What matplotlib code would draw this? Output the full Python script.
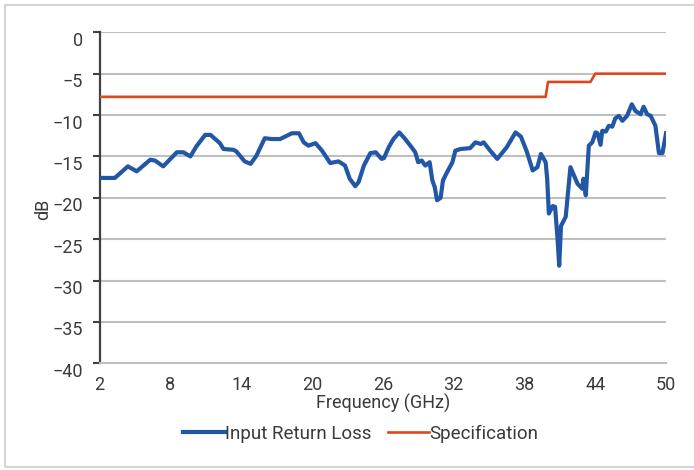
import matplotlib
matplotlib.use("Agg")
import matplotlib.pyplot as plt
from matplotlib.patches import Rectangle
from matplotlib.transforms import ScaledTranslation

plt.rcParams['font.family'] = ['Roboto', 'DejaVu Sans']

freq = [2.0, 3.3, 4.4, 5.15, 6.3, 6.7, 7.4, 8.55, 9.1, 9.7, 10.2, 10.95, 11.4,
        12.2, 12.5, 13.35, 13.6, 14.3, 14.8, 15.3, 16.0, 16.6, 17.3, 18.3,
        18.9, 19.3, 19.7, 20.3, 20.85, 21.55, 22.25, 22.8, 23.2, 23.67, 23.95,
        24.4, 24.95, 25.4, 25.9, 26.1, 26.5, 26.9, 27.4, 27.9, 28.5, 28.75,
        29.0, 29.3, 29.6, 29.97, 30.2, 30.4, 30.6, 30.9, 31.1, 31.45, 31.9,
        32.15, 32.6, 33.4, 33.85, 34.3, 34.55, 35.1, 35.7, 36.5, 37.25, 37.7,
        38.2, 38.7, 39.1, 39.4, 39.8, 39.93, 40.07, 40.4, 40.6, 40.8, 40.95,
        41.1, 41.5, 41.9, 42.2, 42.5, 42.9, 43.0, 43.2, 43.46, 43.75, 44.03,
        44.2, 44.45, 44.6, 44.9, 45.15, 45.45, 45.7, 46.0, 46.3, 46.7, 47.1,
        47.4, 47.85, 48.1, 48.4, 48.7, 49.1, 49.4, 49.7, 50.0]
return_loss = [-17.6, -17.6, -16.2, -16.8, -15.4, -15.5, -16.2, -14.5, -14.5,
               -15.0, -13.8, -12.4, -12.4, -13.4, -14.1, -14.2, -14.4, -15.6,
               -15.9, -14.9, -12.8, -12.9, -12.9, -12.2, -12.2, -13.3, -13.7,
               -13.4, -14.3, -15.8, -15.6, -16.1, -17.7, -18.6, -18.1, -16.1,
               -14.6, -14.5, -15.3, -15.2, -13.9, -12.9, -12.1, -12.9, -14.0,
               -14.5, -15.7, -15.5, -16.1, -15.7, -17.9, -18.7, -20.3, -20.0,
               -17.9, -16.9, -15.7, -14.3, -14.1, -14.0, -13.3, -13.5, -13.3,
               -14.3, -15.3, -13.9, -12.1, -12.6, -14.4, -16.7, -16.3, -14.7,
               -15.7, -17.7, -21.9, -21.0, -21.1, -24.8, -28.2, -23.4, -22.3,
               -16.3, -17.3, -18.3, -18.9, -17.7, -19.7, -13.7, -13.3, -12.1,
               -12.2, -13.6, -11.9, -12.0, -11.3, -11.4, -10.4, -10.1, -10.7,
               -10.1, -8.7, -9.5, -9.9, -9.0, -9.9, -10.1, -11.3, -14.6, -14.6,
               -12.2]

# specification limit
spec_freq = [2, 39.8, 40, 43.6, 44, 50]
spec_db = [-7.8, -7.8, -6, -6, -5, -5]

xticks = [2, 8, 14, 20, 26, 32, 38, 44, 50]
yticks = [0, -5, -10, -15, -20, -25, -30, -35, -40]

fig = plt.figure(figsize=(6.94, 4.70), dpi=100)
ax = fig.add_axes([0.1434, 0.227, 0.8163, 0.7043])

# light frame round the whole chart
fig.patches.append(Rectangle((5 / 694, 3 / 470), 1.0, 462 / 470,
                             transform=fig.transFigure, fill=False,
                             edgecolor='#d4d4d4', lw=1.5, zorder=0))

ax.plot(freq, return_loss, color='#2257a6', lw=3.0, solid_joinstyle='round',
        label='Input Return Loss', zorder=3)
ax.plot(spec_freq, spec_db, color='#e0461c', lw=1.9, label='Specification',
        zorder=3)

ax.set_xlim(2, 50)
ax.set_ylim(-40, 0)
ax.set_xticks(xticks)
ax.set_yticks(yticks)
ax.grid(axis='y', color='#bfbfbf', lw=1.5)
ax.set_axisbelow(True)

for s in ['top', 'right']:
    ax.spines[s].set_visible(False)
ax.spines['left'].set_color('#404040')
ax.spines['left'].set_linewidth(1.6)
ax.spines['bottom'].set_color('#bfbfbf')
ax.spines['bottom'].set_linewidth(1.5)

txt = '#3a3a3a'
ax.tick_params(axis='y', length=5, width=1.5, color='#404040', pad=7,
               labelsize=13, labelcolor=txt)
ax.tick_params(axis='x', length=0, pad=9, labelsize=13, labelcolor=txt)

for lab in ax.get_yticklabels():
    lab.set_transform(lab.get_transform() +
                      ScaledTranslation(0, -0.065, fig.dpi_scale_trans))

ax.set_xlabel('Frequency (GHz)', fontsize=13, color=txt, labelpad=0)
ax.set_ylabel('dB', fontsize=13, color=txt)
ax.yaxis.set_label_coords(-0.084, 0.466)

leg = ax.legend(loc='center', bbox_to_anchor=(0.461, -0.212), ncol=2,
                frameon=False, handlelength=2.2, handletextpad=0.0,
                columnspacing=0.9, prop={'size': 13.5})
for t in leg.get_texts():
    t.set_color(txt)

fig.savefig('out.png', dpi=100)
